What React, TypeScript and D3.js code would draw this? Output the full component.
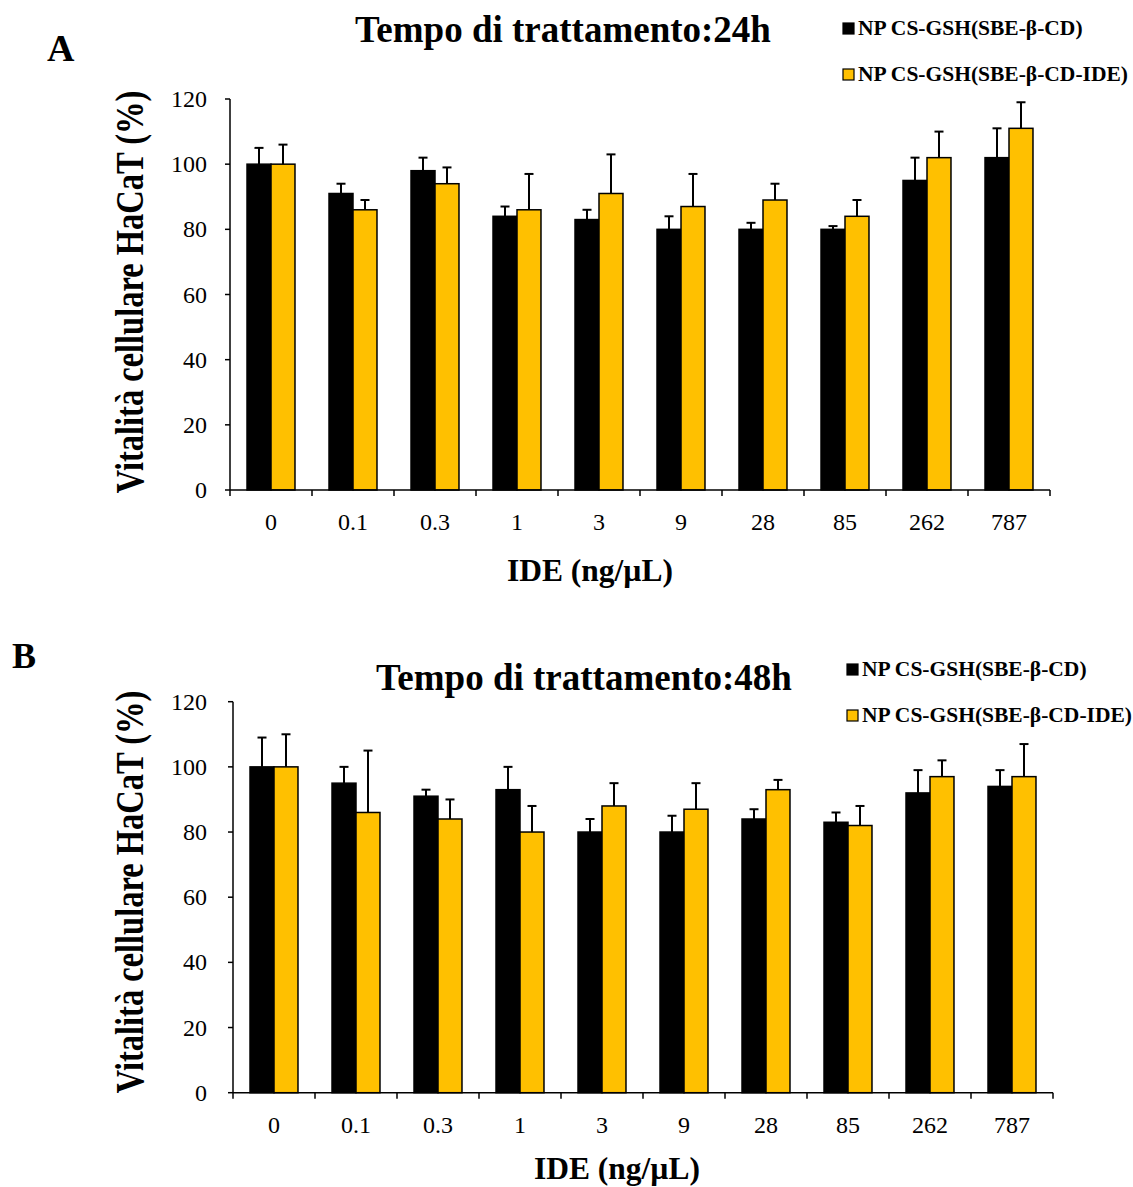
import React from "react";
import * as d3 from "d3";

const categories = ["0", "0.1", "0.3", "1", "3", "9", "28", "85", "262", "787"];
const seriesNames = ["NP CS-GSH(SBE-β-CD)", "NP CS-GSH(SBE-β-CD-IDE)"];
const seriesColors = ["#000000", "#FFC000"];
const yTicks = [0, 20, 40, 60, 80, 100, 120];

const a24Black = [100, 91, 98, 84, 83, 80, 80, 80, 95, 102];
const a24BlackErr = [5, 3, 4, 3, 3, 4, 2, 1, 7, 9];
const a24Yellow = [100, 86, 94, 86, 91, 87, 89, 84, 102, 111];
const a24YellowErr = [6, 3, 5, 11, 12, 10, 5, 5, 8, 8];

const b48Black = [100, 95, 91, 93, 80, 80, 84, 83, 92, 94];
const b48BlackErr = [9, 5, 2, 7, 4, 5, 3, 3, 7, 5];
const b48Yellow = [100, 86, 84, 80, 88, 87, 93, 82, 97, 97];
const b48YellowErr = [10, 19, 6, 8, 7, 8, 3, 6, 5, 10];

type PanelProps = {
  letter: string;
  letterX: number;
  letterY: number;
  letterSize: number;
  title: string;
  titleX: number;
  titleY: number;
  legendX: number;
  legendY: number;
  x0: number;
  x1: number;
  yTop: number;
  yBottom: number;
  xTitleX: number;
  xTitleY: number;
  yLabelY: number;
  values: number[][];
  errors: number[][];
};

const FONT = "'Liberation Serif', 'Times New Roman', serif";

function Panel(p: PanelProps) {
  const x = d3.scaleBand<string>().domain(categories).range([p.x0, p.x1]).paddingInner(0).paddingOuter(0);
  const y = d3.scaleLinear().domain([0, 120]).range([p.yBottom, p.yTop]);
  const groupW = x.bandwidth() * 0.585;
  const sub = d3.scaleBand<number>().domain([0, 1]).range([0, groupW]);
  const offset = (x.bandwidth() - groupW) / 2;
  const bandEdges = categories.map((c) => x(c) as number).concat([p.x1]);
  return (
    <g>
      <text x={p.letterX} y={p.letterY} fontFamily={FONT} fontWeight="bold" fontSize={p.letterSize}>{p.letter}</text>
      <text x={p.titleX} y={p.titleY} fontFamily={FONT} fontWeight="bold" fontSize={37} textAnchor="middle">{p.title}</text>
      {seriesNames.map((n, i) => (
        <g key={n}>
          <rect x={p.legendX} y={p.legendY + i * 46 - 12} width={11} height={11} fill={seriesColors[i]} stroke="#000" strokeWidth={1.2} />
          <text x={p.legendX + 15} y={p.legendY + i * 46} fontFamily={FONT} fontWeight="bold" fontSize={21.5}>{n}</text>
        </g>
      ))}
      {p.values.map((vals, si) =>
        vals.map((v, ci) => {
          const bx = (x(categories[ci]) as number) + offset + (sub(si) as number);
          const bw = sub.bandwidth();
          const cx = bx + bw / 2;
          const top = y(v);
          const et = y(v + p.errors[si][ci]);
          return (
            <g key={`${si}-${ci}`}>
              <rect x={bx} y={top} width={bw} height={p.yBottom - top} fill={seriesColors[si]} stroke="#000" strokeWidth={1.5} />
              <line x1={cx} x2={cx} y1={top} y2={et} stroke="#000" strokeWidth={2} />
              <line x1={cx - 4.5} x2={cx + 4.5} y1={et} y2={et} stroke="#000" strokeWidth={2} />
            </g>
          );
        })
      )}
      <line x1={p.x0} x2={p.x0} y1={p.yTop} y2={p.yBottom} stroke="#000" strokeWidth={1.5} />
      {yTicks.map((t) => (
        <g key={t}>
          <line x1={p.x0 - 5} x2={p.x0} y1={y(t)} y2={y(t)} stroke="#000" strokeWidth={1.5} />
          <text x={207} y={y(t) + 8} textAnchor="end" fontFamily={FONT} fontSize={24}>{t}</text>
        </g>
      ))}
      <line x1={p.x0} x2={p.x1} y1={p.yBottom} y2={p.yBottom} stroke="#000" strokeWidth={1.5} />
      {bandEdges.map((e, i) => (
        <line key={i} x1={e} x2={e} y1={p.yBottom} y2={p.yBottom + 6} stroke="#000" strokeWidth={1.5} />
      ))}
      {categories.map((c) => (
        <text key={c} x={(x(c) as number) + x.bandwidth() / 2} y={p.yBottom + 40} textAnchor="middle" fontFamily={FONT} fontSize={24}>{c}</text>
      ))}
      <text x={p.xTitleX} y={p.xTitleY} textAnchor="middle" fontFamily={FONT} fontWeight="bold" fontSize={31.5}>IDE (ng/µL)</text>
      <text transform={`translate(143,${p.yLabelY}) rotate(-90) scale(1,1.2)`} textAnchor="middle" fontFamily={FONT} fontWeight="bold" fontSize={32.5}>Vitalità cellulare HaCaT (%)</text>
    </g>
  );
}

export default function App() {
  return (
    <svg width={1133} height={1187} style={{ position: "absolute", left: 0, top: 0, background: "#fff" }}>
      <rect x={0} y={0} width={1133} height={1187} fill="#fff" />
      <Panel
        letter="A" letterX={47} letterY={61} letterSize={38}
        title="Tempo di trattamento:24h" titleX={563} titleY={42}
        legendX={843} legendY={35}
        x0={230} x1={1050} yTop={99} yBottom={490}
        xTitleX={590} xTitleY={581} yLabelY={292}
        values={[a24Black, a24Yellow]} errors={[a24BlackErr, a24YellowErr]}
      />
      <Panel
        letter="B" letterX={12} letterY={668} letterSize={36}
        title="Tempo di trattamento:48h" titleX={584} titleY={690}
        legendX={847} legendY={676}
        x0={233} x1={1053} yTop={701.7} yBottom={1092.7}
        xTitleX={617} xTitleY={1179} yLabelY={892}
        values={[b48Black, b48Yellow]} errors={[b48BlackErr, b48YellowErr]}
      />
    </svg>
  );
}
